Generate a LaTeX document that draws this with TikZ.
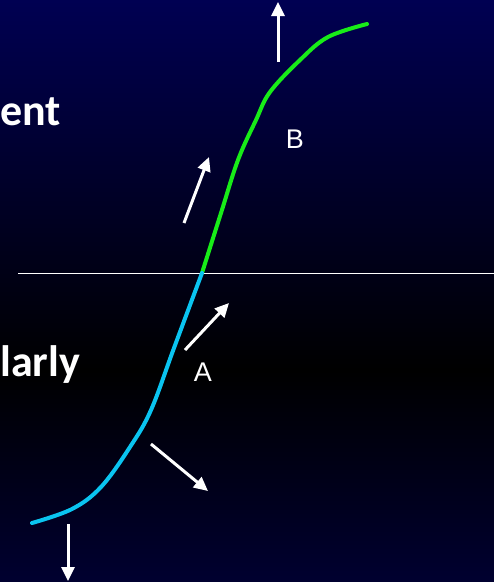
\documentclass[tikz,border=0pt]{standalone}
\usepackage{fontspec}
\setmainfont{Liberation Sans}
\newfontfamily\sidefont{Carlito}
\usetikzlibrary{arrows.meta, positioning}
\definecolor{navytop}{RGB}{0,0,82}
\definecolor{navybot}{RGB}{0,0,48}
\definecolor{curvegreen}{RGB}{24,236,24}
\definecolor{curveblue}{RGB}{10,196,240}

\begin{document}
\begin{tikzpicture}[
        x=1pt, y=-1pt,
        lbl/.style={text=white, inner sep=0pt, font=\fontsize{27}{30}\selectfont},
        side/.style={text=white, inner sep=0pt, anchor=base west, font=\sidefont\bfseries\fontsize{44}{48}\selectfont},
        arr/.style={-{Triangle[length=14pt, width=13pt]}, white, line width=3pt},
        crv/.style={line width=4pt, line cap=round, line join=round}
    ]
        % background
        \shade[top color=navytop, bottom color=black] (0,0) rectangle (494,370);
        \shade[top color=black, bottom color=navybot] (0,370) rectangle (494,582);
        \useasboundingbox (0,0) rectangle (494,582);

        % side text
        \node[side] (ent)   at (0,125) {ent};
        \node[side] (larly) at (0,376) {larly};

        % threshold line
        \coordinate (lineL) at (18,273);
        \coordinate (lineR) at (494,273);
        \draw[white, line width=1pt] (lineL) -- (lineR);

        % the curve
        \draw[crv, curvegreen] plot[smooth, tension=0.6] coordinates {(202,273) (221,213) (238,160) (256,120) (270,92) (300,60) (328,37) (367,24)};
        \draw[crv, curveblue] plot[smooth, tension=0.6] coordinates {(202,273) (174,348) (151,410) (130,447) (101,487) (72,509) (32,523)};

        \node[lbl] (B) at (295,139) {B};
        \node[lbl] (A) at (203,372) {A};

        % force arrows
        \coordinate (t0) at (278,62);  \coordinate (t1) at (278,2);
        \coordinate (g0) at (184,223); \coordinate (g1) at (209,157);
        \coordinate (a0) at (185,350); \coordinate (a1) at (229,303);
        \coordinate (b0) at (151,444); \coordinate (b1) at (208,491);
        \coordinate (d0) at (68,524);  \coordinate (d1) at (68,581);
        \draw[arr] (t0) -- (t1);
        \draw[arr] (g0) -- (g1);
        \draw[arr] (a0) -- (a1);
        \draw[arr] (b0) -- (b1);
        \draw[arr] (d0) -- (d1);
    \end{tikzpicture}
\end{document}
